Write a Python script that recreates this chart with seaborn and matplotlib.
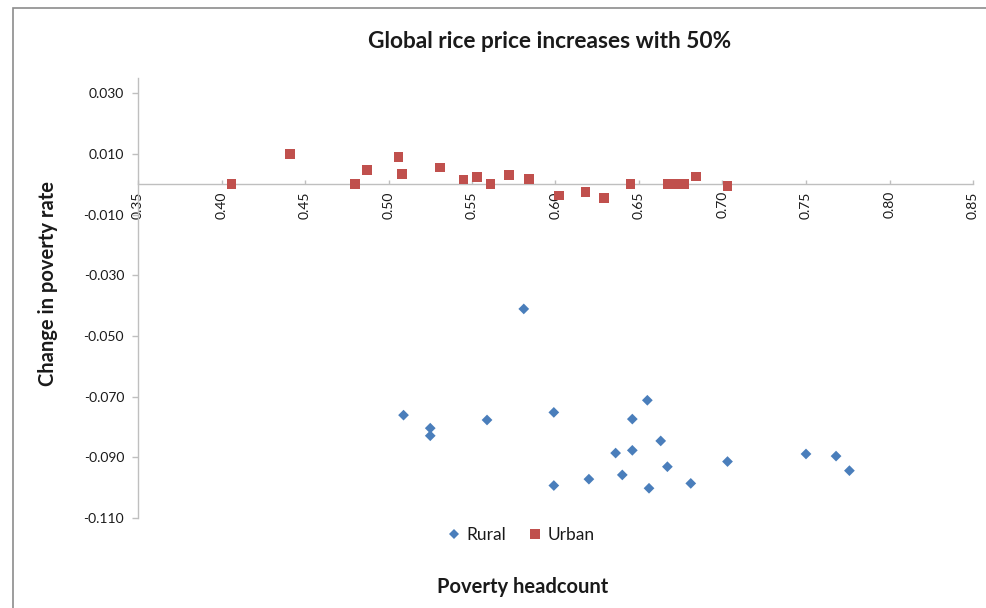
import matplotlib
matplotlib.use("Agg")
import matplotlib.pyplot as plt
from matplotlib.patches import Rectangle
from matplotlib.lines import Line2D
import seaborn as sns
import pandas as pd

# Poverty headcount (x) and change in poverty rate (y) per region
rural_headcount = [0.581, 0.509, 0.525, 0.525, 0.559, 0.599, 0.599, 0.620,
                   0.636, 0.640, 0.646, 0.646, 0.655, 0.656, 0.663, 0.667,
                   0.681, 0.703, 0.750, 0.768, 0.776]
rural_change = [-0.0411, -0.0761, -0.0804, -0.0829, -0.0777, -0.0752, -0.0993,
                -0.0972, -0.0886, -0.0958, -0.0774, -0.0877, -0.0712, -0.1002,
                -0.0846, -0.0931, -0.0986, -0.0914, -0.0889, -0.0896, -0.0944]

urban_headcount = [0.406, 0.441, 0.480, 0.487, 0.506, 0.508, 0.531, 0.545,
                   0.553, 0.561, 0.572, 0.584, 0.602, 0.618, 0.629, 0.645,
                   0.667, 0.672, 0.677, 0.684, 0.703]
urban_change = [0.0000, 0.0100, 0.0000, 0.0047, 0.0089, 0.0033, 0.0055, 0.0015,
                0.0024, 0.0000, 0.0030, 0.0017, -0.0037, -0.0025, -0.0045, 0.0000,
                0.0000, 0.0000, 0.0000, 0.0025, -0.0006]

title = "Global rice price increases with 50%"
x_label = "Poverty headcount"
y_label = "Change in poverty rate"
x_ticks = [0.35, 0.40, 0.45, 0.50, 0.55, 0.60, 0.65, 0.70, 0.75, 0.80, 0.85]
y_ticks = [-0.110, -0.090, -0.070, -0.050, -0.030, -0.010, 0.010, 0.030]

RURAL_COLOR = "#4A7EBB"
URBAN_COLOR = "#C0504D"
AXIS_COLOR = "#BFBFBF"
TEXT_COLOR = "#1a1a1a"

sns.set_theme(style="white")
plt.rcParams["font.family"] = ["Lato", "DejaVu Sans"]

rural = pd.DataFrame({"headcount": rural_headcount, "change": rural_change})
urban = pd.DataFrame({"headcount": urban_headcount, "change": urban_change})

fig = plt.figure(figsize=(9.87, 6.08), dpi=100)
ax = fig.add_axes([138 / 987, 1 - 518 / 608, (973 - 138) / 987, (518 - 78) / 608])

sns.scatterplot(data=urban, x="headcount", y="change", ax=ax, marker="s",
                s=48, color=URBAN_COLOR, edgecolor="none", linewidth=0, zorder=3)
sns.scatterplot(data=rural, x="headcount", y="change", ax=ax, marker="D",
                s=30, color=RURAL_COLOR, edgecolor="none", linewidth=0, zorder=3)

# Horizontal axis crosses the vertical one at zero
for side in ("top", "right"):
    ax.spines[side].set_visible(False)
ax.spines["bottom"].set_position(("data", 0))
ax.spines["bottom"].set_color(AXIS_COLOR)
ax.spines["left"].set_color(AXIS_COLOR)
ax.spines["bottom"].set_linewidth(1.0)
ax.spines["left"].set_linewidth(1.0)

ax.set_xlim(0.35, 0.85)
ax.set_ylim(-0.110, 0.035)
ax.set_xticks(x_ticks)
ax.set_yticks(y_ticks)
ax.set_xticklabels([f"{v:.2f}" for v in x_ticks])
ax.set_yticklabels([f"{v:.3f}" for v in y_ticks])
ax.tick_params(axis="y", direction="out", length=4, width=1, color=AXIS_COLOR,
               pad=6, left=True, labelsize=10, labelcolor=TEXT_COLOR)
ax.tick_params(axis="x", direction="in", length=3, width=1, color=AXIS_COLOR,
               pad=5, bottom=True, labelsize=10, labelcolor=TEXT_COLOR,
               labelrotation=90)

ax.set_xlabel(x_label, fontsize=14.5, fontweight="bold", color=TEXT_COLOR)
ax.set_ylabel(y_label, fontsize=14.5, fontweight="bold", color=TEXT_COLOR)
ax.xaxis.set_label_coords(523 / 987, 1 - 577 / 608, transform=fig.transFigure)
ax.yaxis.set_label_coords(58 / 987, 1 - 283 / 608, transform=fig.transFigure)

fig.text(550 / 987, 1 - 42 / 608, title, ha="center", va="center",
         fontsize=16.3, fontweight="bold", color=TEXT_COLOR)

handles = [
    Line2D([], [], marker="D", linestyle="none", color=RURAL_COLOR, markersize=5.5,
           markeredgewidth=0, label="Rural"),
    Line2D([], [], marker="s", linestyle="none", color=URBAN_COLOR, markersize=7,
           markeredgewidth=0, label="Urban"),
]
fig.legend(handles=handles, loc="center", bbox_to_anchor=(520 / 987, 1 - 535 / 608),
           ncol=2, frameon=False, fontsize=12.5, handletextpad=0.2,
           columnspacing=1.2, handlelength=1.0, labelcolor=TEXT_COLOR)

# Chart-area frame
fig.patches.append(Rectangle((13 / 987, -0.05), 1.2, 1 - 8 / 608 + 0.05,
                             transform=fig.transFigure, fill=False,
                             edgecolor="#8C8C8C", linewidth=1.2))

fig.savefig("out.png", dpi=100)
